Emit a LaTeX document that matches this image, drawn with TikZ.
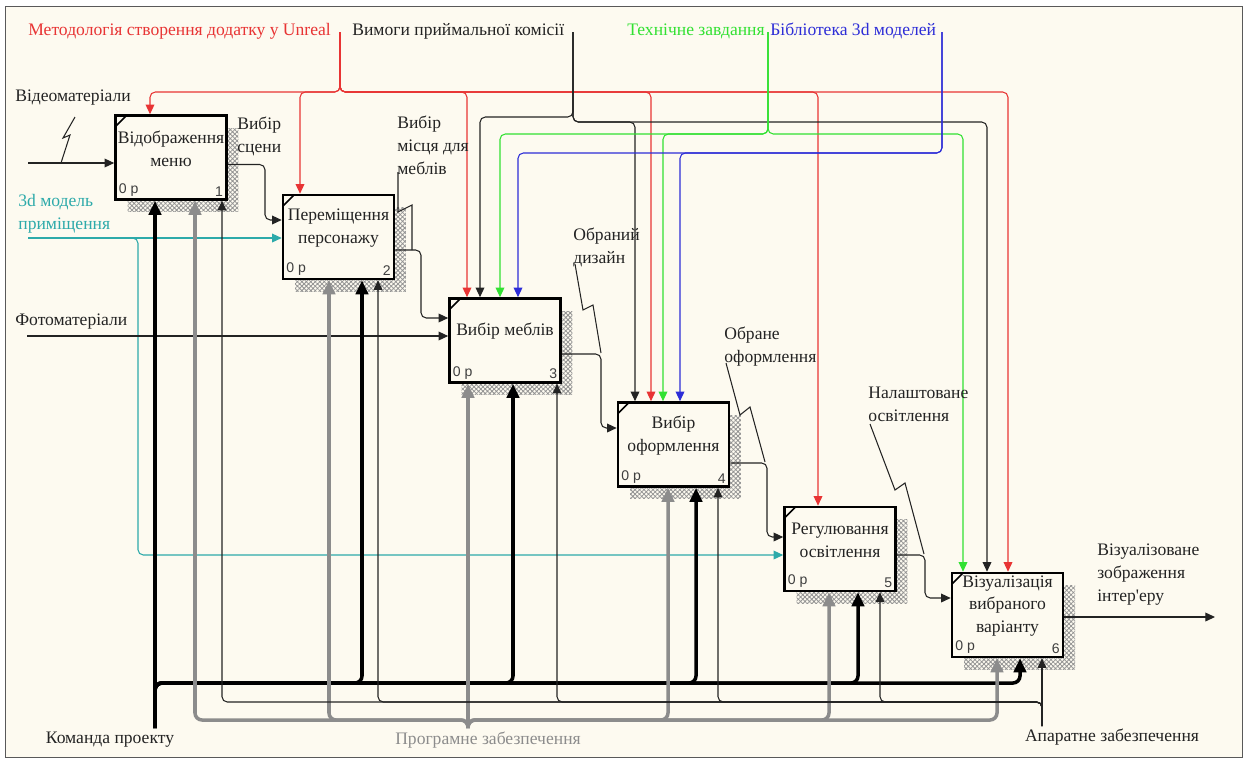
\documentclass[tikz,border=0pt]{standalone}
\usepackage{fontspec}
\setmainfont{Liberation Serif}
\newfontfamily\tagfont{Liberation Sans}
\newfontfamily\plainserif{Liberation Serif}
\usepackage{xcolor}
\usepackage{tikz}
\usetikzlibrary{arrows.meta, calc, patterns.meta, shadows}

\definecolor{paper}{RGB}{253,250,240}
\definecolor{ink}{RGB}{35,35,35}
\definecolor{ctlred}{RGB}{232,52,52}
\definecolor{ctlgreen}{RGB}{50,225,50}
\definecolor{ctlblue}{RGB}{45,45,215}
\definecolor{incyan}{RGB}{45,170,170}
\definecolor{swgray}{RGB}{140,140,140}

\begin{document}
\begin{tikzpicture}[
    x=0.02cm, y=-0.02cm, color=ink,
    font=\fontsize{10}{13}\selectfont,
    box/.style={draw=black, line width=1.5pt, fill=paper, minimum width=2.22cm, minimum height=1.68cm,
        general shadow={pattern={Hatch[angle=45, distance=1.8pt, line width=0.45pt]}, pattern color=gray!85, shadow xshift=0.24cm, shadow yshift=-0.25cm},
        path picture={\draw[line width=0.9pt] ([yshift=-0.22cm]path picture bounding box.north west) -- ([xshift=0.22cm]path picture bounding box.north west);}},
    boxtext/.style={align=center},
    tag/.style={font=\tagfont\fontsize{8}{9}\selectfont, text=gray!30!ink, inner sep=2.5pt},
    lbl/.style={align=left, inner sep=0pt},
    flow/.style={-{Triangle[length=5.5pt, width=5pt]}, line width=0.6pt, rounded corners=3pt},
    heavy/.style={-{Triangle[length=8pt, width=7pt]}, line width=2pt, rounded corners=4pt},
    squig/.style={line width=0.6pt}
]
\useasboundingbox (0,0) rectangle (1244,758);
\draw[gray!70!black, fill=paper] (5,6) rectangle (1242,757);

% Boxes
\node[box] (b1) at (171,157.5) {};
\node[box] (b2) at (338.5,237) {};
\node[box] (b3) at (505,340.5) {};
\node[box] (b4) at (673.5,444.5) {};
\node[box] (b5) at (840,549) {};
\node[box] (b6) at (1007.5,615) {};

\node[boxtext] (t1) at ($(b1)+(0,-9)$) {Відображення\\меню};
\node[boxtext] (t2) at ($(b2)+(0,-9)$) {Переміщення\\персонажу};
\node[boxtext] (t3) at ($(b3)+(0,-9)$) {Вибір меблів};
\node[boxtext] (t4) at ($(b4)+(0,-9)$) {Вибір\\оформлення};
\node[boxtext] (t5) at ($(b5)+(0,-9)$) {Регулювання\\освітлення};
\node[boxtext] (t6) at ($(b6)+(0,-9)$) {Візуалізація\\вибраного\\варіанту};

\foreach \i in {1,...,6}{
  \node[tag, anchor=south west] (p\i) at (b\i.south west) {0 p};
  \node[tag, anchor=south east] (n\i) at (b\i.south east) {\i};
}

% Controls
\node[lbl, text=ctlred, anchor=west] (metod) at (28,31) {Методологія створення додатку у Unreal};
\node[lbl, anchor=west] (vymogy) at (352,31) {Вимоги приймальної комісії};
\node[lbl, text=ctlgreen, anchor=west] (tz) at (627,31) {Технічне завдання};
\node[lbl, text=ctlblue, anchor=west] (lib) at (770,31) {Бібліотека 3d моделей};

\coordinate (redtop) at (340,32);
\coordinate (blktop) at (573,32);
\coordinate (grntop) at (768,32);
\coordinate (blutop) at (942,32);

\foreach \i/\x in {1/150, 2/300, 3/467, 4/651, 5/818, 6/1008}{
  \coordinate (r\i) at (\x,92);
  \draw[flow, ctlred] (redtop) |- (r\i) -- (r\i |- b\i.north);
}
\foreach \i/\x/\y in {3/480/117, 4/635/122, 6/987/122}{
  \coordinate (k\i) at (\x,\y);
  \draw[flow] (blktop) |- (k\i) -- (k\i |- b\i.north);
}
\foreach \i/\x in {3/500, 4/663, 6/963}{
  \coordinate (g\i) at (\x,134);
  \draw[flow, ctlgreen] (grntop) |- (g\i) -- (g\i |- b\i.north);
}
\foreach \i/\x in {3/518, 4/680}{
  \coordinate (u\i) at (\x,153);
  \draw[flow, ctlblue] (blutop) |- (u\i) -- (u\i |- b\i.north);
}

% Inputs
\node[lbl, anchor=west] (video) at (15,98) {Відеоматеріали};
\node[lbl, anchor=north west, text=incyan] (model) at (18,194) {3d модель\\приміщення};
\node[lbl, anchor=west] (photo) at (15,322) {Фотоматеріали};

\coordinate (vin) at (28,163);
\coordinate (min) at (28,238);
\coordinate (cy5) at (138,555);
\coordinate (fin) at (27,336);

\draw[flow] (vin) -- (vin -| b1.west);
\draw[squig] (75,117) -- (63,138) -- (70,135) -- (61,163);
\draw[flow, incyan] (min) -- (min -| b2.west);
\draw[flow, incyan] (min) -| (cy5) -- (cy5 -| b5.west);
\draw[flow] (fin) -- (fin -| b3.west);

% Outputs
\node[lbl, anchor=north west] (scene) at (237,117) {Вибір\\сцени};
\node[lbl, anchor=north west] (place) at (397,116) {Вибір\\місця для\\меблів};
\node[lbl, anchor=north west] (design) at (573,228) {Обраний\\дизайн};
\node[lbl, anchor=north west] (decor) at (724,327) {Обране\\оформлення};
\node[lbl, anchor=north west] (light) at (868,387) {Налаштоване\\освітлення};
\node[lbl, anchor=north west] (result) at (1097,544) {Візуалізоване\\зображення\\інтер{\plainserif'}еру};

\coordinate (j1) at (265,220);
\coordinate (j2) at (421,318);
\coordinate (j3) at (601,428);
\coordinate (j4) at (767,537);
\coordinate (j5) at (925,598);
\coordinate (vout) at (1215,617);

\draw[flow] ($(b1.east)+(0,7)$) -| (j1) -- (j1 -| b2.west);
\draw[flow] ($(b2.east)+(0,13)$) -| (j2) -- (j2 -| b3.west);
\draw[flow] ($(b3.east)+(0,13.5)$) -| (j3) -- (j3 -| b4.west);
\draw[flow] ($(b4.east)+(0,18.5)$) -| (j4) -- (j4 -| b5.west);
\draw[flow] ($(b5.east)+(0,6)$) -| (j5) -- (j5 -| b6.west);
\draw[flow] (b6.east |- vout) -- (vout);

\draw[squig] (398,172) -- (398,212) -- (412,205) -- (412,250);
\draw[squig] (575,264) -- (583,310) -- (593,305) -- (601,353);
\draw[squig] (726,363) -- (740,415) -- (750,407) -- (765,462);
\draw[squig] (870,424) -- (895,490) -- (905,483) -- (924,554);

% Mechanisms
\node (team) at (110,740) {Команда проекту};
\node[text=swgray] (soft) at (488,740) {Програмне забезпечення};
\node (hard) at (1112,737) {Апаратне забезпечення};

\coordinate (kom) at (155,728);
\coordinate (prog) at (468,728);
\coordinate (apar) at (1042,726);

\draw[heavy, black] (kom) -- (kom |- b1.south);
\foreach \i/\x in {2/362, 3/513, 4/696, 5/858, 6/1020}{
  \coordinate (h\i) at (\x,683);
  \draw[heavy, black] (kom) |- (h\i) -- (h\i |- b\i.south);
}
\foreach \i/\x in {1/195, 2/329, 3/468, 4/668, 5/829, 6/997}{
  \coordinate (s\i) at (\x,720);
  \draw[heavy, swgray] (prog) |- (s\i) -- (s\i |- b\i.south);
}
\draw[flow] (apar) -- (apar |- b6.south);
\foreach \i/\x in {1/222, 2/378, 3/557, 4/718, 5/880}{
  \coordinate (a\i) at (\x,702);
  \draw[flow] (apar) |- (a\i) -- (a\i |- b\i.south);
}

\end{tikzpicture}
\end{document}
